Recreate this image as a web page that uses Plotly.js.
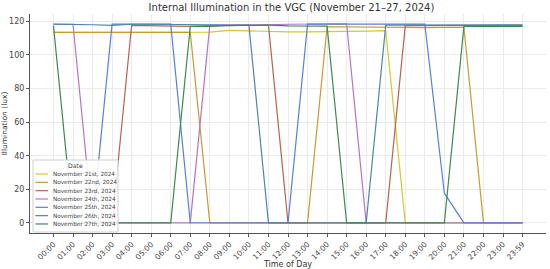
<!DOCTYPE html>
<html>
<head>
<meta charset="utf-8">
<script src="https://cdn.plot.ly/plotly-3.0.1.min.js"></script>
<style>
  body { margin: 0; background: #fff; }
  #chart { width: 550px; height: 269px; }
</style>
</head>
<body>
<div id="chart"></div>
<script>
let times = ["00:00", "01:00", "02:00", "03:00", "04:00", "05:00", "06:00", "07:00",
    "08:00", "09:00", "10:00", "11:00", "12:00", "13:00", "14:00", "15:00", "16:00",
    "17:00", "18:00", "19:00", "20:00", "21:00", "22:00", "23:00", "23:59"];

let dates = ["November 21st, 2024", "November 22nd, 2024", "November 23rd, 2024",
    "November 24th, 2024", "November 25th, 2024", "November 26th, 2024", "November 27th, 2024"];

let nov21 = [113.5, 113.5, 113.5, 113.5, 113.5, 113.5, 113.5, 113.6, 113.6, 114.6, 114.3, 113.9,
    113.8, 113.8, 113.8, 113.9, 114.2, 114.5, 0, 0, 0, 0, 0, 0, 0];
let nov22 = [113.5, 113.5, 113.5, 113.5, 113.5, 113.5, 113.5, 113.5, 0, 0, 0, 0,
    0, 0, 116.8, 116.6, 116.5, 116.5, 116.4, 116.3, 116.3, 116.5, 0, 0, 0];
let nov23 = [0, 0, 0, 0, 117.6, 117.3, 117.0, 117.0, 117.5, 117.8, 117.6, 117.8,
    0, 0, 0, 0, 0, 0, 117.5, 117.5, 117.4, 117.5, 117.6, 117.6, 117.6];
let nov24 = [118.3, 118.3, 0, 0, 0, 0, 0, 0, 117.8, 117.8, 118.0, 118.0,
    118.3, 118.5, 118.6, 118.6, 0, 0, 0, 0, 0, 0, 0, 0, 0];
let nov25 = [0, 0, 0, 118.4, 118.4, 118.4, 118.4, 0, 0, 0, 0, 0,
    0, 118.4, 118.4, 118.4, 118.4, 118.4, 118.4, 118.4, 17.7, 0, 0, 0, 0];
let nov26 = [118.4, 118.4, 118.0, 117.6, 118.3, 118.3, 118.3, 118.2, 118.0, 117.6, 117.8, 0,
    0, 0, 0, 0, 0, 117.8, 117.8, 117.8, 117.6, 117.6, 118.0, 118.0, 118.0];
let nov27 = [117.5, 0, 0, 0, 0, 0, 0, 117.0, 117.0, 117.5, 117.6, 117.8,
    117.3, 117.3, 117.2, 0, 0, 0, 0, 0, 0, 117.0, 117.0, 117.0, 117.0];

let series = [nov21, nov22, nov23, nov24, nov25, nov26, nov27];
let colors = ["#d8c62c", "#c99a2e", "#b5644f", "#b276c6", "#5b7fd9", "#4e86a6", "#3b8a52"];

let traces = [];
for (let i = 0; i < series.length; i++) {
    traces.push({
        x: times,
        y: series[i],
        type: "scatter",
        mode: "lines",
        name: dates[i],
        line: { color: colors[i], width: 1.2 }
    });
}

// plot area in pixels, used to place the small matplotlib-like legend
let W = 550, H = 269;
let mL = 30, mR = 4, mT = 14, mB = 36;
function px(x) { return (x - mL) / (W - mL - mR); }
function py(y) { return 1 - (y - mT) / (H - mT - mB); }

let shapes = [{
    type: "rect", xref: "paper", yref: "paper", layer: "above",
    x0: px(33), x1: px(118), y0: py(232), y1: py(160),
    fillcolor: "rgba(255,255,255,0.88)",
    line: { color: "#d0d0d0", width: 1 }
}];
let annotations = [{
    xref: "paper", yref: "paper", x: px(75.5), y: py(165.5),
    text: "Date", showarrow: false, xanchor: "center", yanchor: "middle",
    font: { size: 6.2, color: "#444" }
}];
for (let i = 0; i < dates.length; i++) {
    let rowY = 174 + i * 8.33;
    shapes.push({
        type: "line", xref: "paper", yref: "paper", layer: "above",
        x0: px(35.5), x1: px(48), y0: py(rowY), y1: py(rowY),
        line: { color: colors[i], width: 1.2 }
    });
    annotations.push({
        xref: "paper", yref: "paper", x: px(51), y: py(rowY),
        text: dates[i], showarrow: false, xanchor: "left", yanchor: "middle",
        font: { size: 5.7, color: "#444" }
    });
}

let layout = {
    width: W,
    height: H,
    margin: { l: mL, r: mR, t: mT, b: mB },
    paper_bgcolor: "#fff",
    plot_bgcolor: "#fff",
    font: { family: "DejaVu Sans", size: 8, color: "#333" },
    title: {
        text: "Internal Illumination in the VGC (November 21–27, 2024)",
        font: { size: 10, color: "#333" },
        x: 0.53, xanchor: "center", y: 0.985, yanchor: "top"
    },
    showlegend: false,
    shapes: shapes,
    annotations: annotations,
    xaxis: {
        type: "category",
        range: [-1.2, 25.2],
        tickangle: -45,
        ticks: "outside",
        ticklen: 3,
        tickcolor: "#555",
        showgrid: true,
        gridcolor: "#ebebeb",
        showline: true,
        linecolor: "#555",
        zeroline: false,
        automargin: false,
        tickfont: { size: 7.5, color: "#444" },
        title: { text: "Time of Day", font: { size: 8, color: "#333" }, standoff: 2 }
    },
    yaxis: {
        range: [-6, 124.4],
        tickvals: [0, 20, 40, 60, 80, 100, 120],
        ticks: "outside",
        ticklen: 3,
        tickcolor: "#555",
        showgrid: true,
        gridcolor: "#ebebeb",
        showline: true,
        linecolor: "#555",
        zeroline: false,
        automargin: false,
        tickfont: { size: 8, color: "#444" },
        title: { text: "Illumination (lux)", font: { size: 7.5, color: "#333" }, standoff: 4 }
    }
};

Plotly.newPlot("chart", traces, layout, { staticPlot: true });
</script>
</body>
</html>
